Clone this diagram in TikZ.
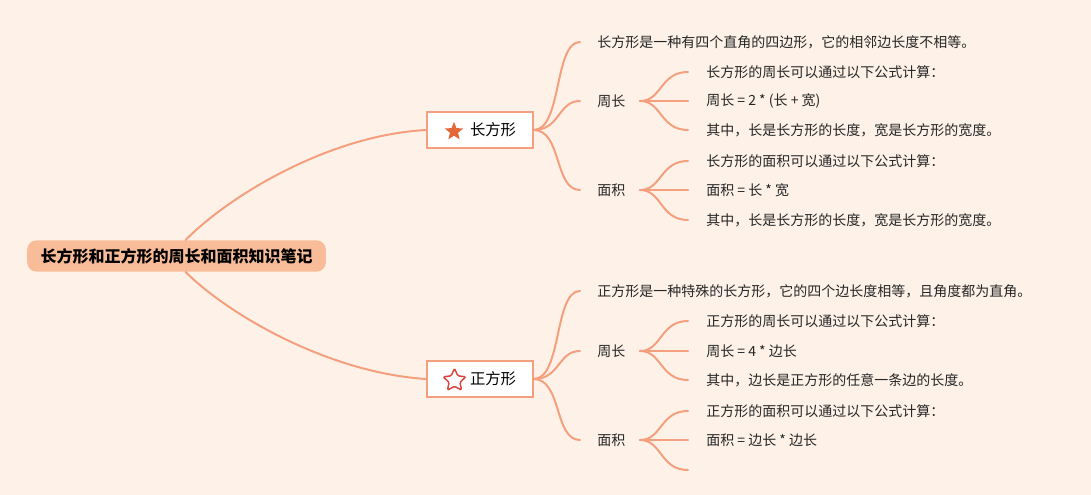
\documentclass[tikz,border=0pt]{standalone}
\usepackage{fontspec}
\newfontfamily\cjk{Noto Sans CJK SC}
\usetikzlibrary{shapes.geometric,calc}
\definecolor{bgc}{HTML}{FEF2E8}
\definecolor{linec}{HTML}{F4A07E}
\definecolor{rootc}{HTML}{F9BC98}
\definecolor{starfill}{HTML}{E4693A}
\definecolor{starline}{HTML}{D8463F}
\definecolor{txt}{HTML}{262626}
\tikzset{
  conn/.style={draw=linec, line width=1.5pt, line cap=round},
  rootbox/.style={fill=rootc, rounded corners=7pt, minimum width=224pt, minimum height=23.5pt, inner sep=0pt, text=black, font=\cjk\bfseries\fontsize{12}{14}\selectfont},
  boxnode/.style={draw=linec, fill=white, line width=1pt, minimum width=79.5pt, minimum height=27pt, inner sep=0pt},
  boxtext/.style={inner sep=0pt, text=black, font=\cjk\fontsize{11.5}{13}\selectfont},
  leaf/.style={anchor=west, inner sep=0pt, text=txt, font=\cjk\fontsize{10.5}{12}\selectfont},
}
\begin{document}
\begin{tikzpicture}[x=0.75pt,y=-0.75pt]
\fill[bgc] (0,0) rectangle (1091,495);
\useasboundingbox (0,0) rectangle (1091,495);

% root
\node[rootbox] (root) at (176.5,256) {长方形和正方形的周长和面积知识笔记};

% main boxes
\node[boxnode] (b1) at (480,130) {};
\node[star, star points=5, star point ratio=2.3, fill=starfill, inner sep=0pt, minimum size=14.5pt] (s1) at (454,131.5) {};
\node[boxtext] (b1t) at (493,130) {长方形};

\node[boxnode] (b2) at (480,379) {};
\node[star, star points=5, star point ratio=2.1, draw=starline, line width=1.1pt, rounded corners=1pt, fill=white, inner sep=0pt, minimum size=18pt] (s2) at (454.5,380.5) {};
\node[boxtext] (b2t) at (493,379) {正方形};

% root edges
\draw[conn] ($(root.north)+(9,0)$) .. controls (230,195) and (330,135) .. (b1.west);
\draw[conn] ($(root.south)+(9,0)$) .. controls (230,316) and (330,373) .. (b2.west);

% ===== 长方形 branch =====
\node[leaf] (a1) at (597,42) {长方形是一种有四个直角的四边形，它的相邻边长度不相等。};
\node[leaf] (a2) at (597,101) {周长};
\node[leaf] (a3) at (597,190) {面积};
\coordinate (a1e) at (580,42);
\coordinate (a2e) at (580,101);
\coordinate (a3e) at (580,190);
\draw[conn] (b1.east) .. controls (562,130) and (554,42) .. (a1e);
\draw[conn] (b1.east) .. controls (560,130) and (558,101) .. (a2e);
\draw[conn] (b1.east) .. controls (562,130) and (554,190) .. (a3e);

\node[leaf] (a21) at (706,72) {长方形的周长可以通过以下公式计算：};
\node[leaf] (a22) at (706,101) {周长 = 2 * (长 + 宽)};
\node[leaf] (a23) at (706,130) {其中，长是长方形的长度，宽是长方形的宽度。};
\coordinate (a2s) at (640,101);
\coordinate (a21e) at (688,72);
\coordinate (a22e) at (688,101);
\coordinate (a23e) at (688,130);
\draw[conn] (a2s) .. controls (662,101) and (660,72) .. (a21e);
\draw[conn] (a2s) -- (a22e);
\draw[conn] (a2s) .. controls (662,101) and (660,130) .. (a23e);

\node[leaf] (a31) at (706,161) {长方形的面积可以通过以下公式计算：};
\node[leaf] (a32) at (706,190) {面积 = 长 * 宽};
\node[leaf] (a33) at (706,220) {其中，长是长方形的长度，宽是长方形的宽度。};
\coordinate (a3s) at (640,190);
\coordinate (a31e) at (688,161);
\coordinate (a32e) at (688,190);
\coordinate (a33e) at (688,220);
\draw[conn] (a3s) .. controls (662,190) and (660,161) .. (a31e);
\draw[conn] (a3s) -- (a32e);
\draw[conn] (a3s) .. controls (662,190) and (660,220) .. (a33e);

% ===== 正方形 branch =====
\node[leaf] (c1) at (597,291) {正方形是一种特殊的长方形，它的四个边长度相等，且角度都为直角。};
\node[leaf] (c2) at (597,351) {周长};
\node[leaf] (c3) at (597,440) {面积};
\coordinate (c1e) at (580,291);
\coordinate (c2e) at (580,351);
\coordinate (c3e) at (580,440);
\draw[conn] (b2.east) .. controls (562,379) and (554,291) .. (c1e);
\draw[conn] (b2.east) .. controls (560,379) and (558,351) .. (c2e);
\draw[conn] (b2.east) .. controls (562,379) and (554,440) .. (c3e);

\node[leaf] (c21) at (706,321) {正方形的周长可以通过以下公式计算：};
\node[leaf] (c22) at (706,351) {周长 = 4 * 边长};
\node[leaf] (c23) at (706,380) {其中，边长是正方形的任意一条边的长度。};
\coordinate (c2s) at (640,351);
\coordinate (c21e) at (688,321);
\coordinate (c22e) at (688,351);
\coordinate (c23e) at (688,380);
\draw[conn] (c2s) .. controls (662,351) and (660,321) .. (c21e);
\draw[conn] (c2s) -- (c22e);
\draw[conn] (c2s) .. controls (662,351) and (660,380) .. (c23e);

\node[leaf] (c31) at (706,411) {正方形的面积可以通过以下公式计算：};
\node[leaf] (c32) at (706,440) {面积 = 边长 * 边长};
\coordinate (c3s) at (640,440);
\coordinate (c31e) at (688,411);
\coordinate (c32e) at (688,440);
\coordinate (c33e) at (688,470);
\draw[conn] (c3s) .. controls (662,440) and (660,411) .. (c31e);
\draw[conn] (c3s) -- (c32e);
\draw[conn] (c3s) .. controls (662,440) and (660,470) .. (c33e);
\end{tikzpicture}
\end{document}
